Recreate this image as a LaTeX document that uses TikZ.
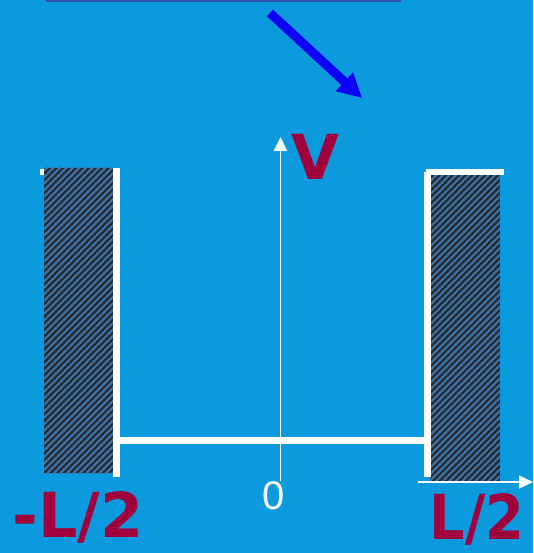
\documentclass[tikz,border=0pt]{standalone}
\usepackage{fontspec}
\setsansfont{DejaVu Sans}
\newfontfamily\digitfont{Liberation Sans}
\usetikzlibrary{arrows.meta, patterns.meta}
\definecolor{cbg}{HTML}{0B9ADE}
\definecolor{cwall}{HTML}{25282E}
\definecolor{cstripe}{HTML}{3D72A6}
\definecolor{clabel}{HTML}{A0003C}
\definecolor{cpointer}{HTML}{0A00F5}
\definecolor{crule}{HTML}{3050B0}
\tikzset{
  every picture/.style={x=1pt, y=-1pt},
  wall/.style={fill=cwall, postaction={pattern={Lines[angle=45, distance=4.6pt, line width=2.2pt]}, pattern color=cstripe}},
  rim/.style={draw=white, line width=6.5pt},
  axis/.style={draw=white, line width=1.8pt, -{Triangle[length=14pt, width=13pt]}},
  pointer/.style={draw=cpointer, line width=9pt, -{Triangle[length=24pt, width=24pt]}},
  label/.style={font=\sffamily\bfseries\fontsize{62}{62}\selectfont, text=clabel, inner sep=0pt, anchor=base},
}

\begin{document}
\begin{tikzpicture}
  % background and the rule at the top
  \fill[cbg] (0,0) rectangle (533,553);
  \useasboundingbox (0,0) rectangle (533,553);
  \coordinate (ruleL) at (46,1);
  \coordinate (ruleR) at (401,1);
  \draw[crule, line width=2pt] (ruleL) -- (ruleR);
  % the blue pointer
  \coordinate (ptail) at (270,13);
  \coordinate (phead) at (362,98);
  \draw[pointer] (ptail) -- (phead);
  % the two walls
  \path[wall] (44,168) rectangle (113,473);
  \path[wall] (430,175) rectangle (500,481);
  \fill[white] (40,169) rectangle (44,175);
  \fill[white] (426,169) rectangle (504,175.5);
  % the well itself
  \coordinate (lt) at (116.5,168);
  \coordinate (lb) at (116.5,477);
  \coordinate (fl) at (116.5,440.5);
  \coordinate (fr) at (427.5,440.5);
  \coordinate (rt) at (427.5,172);
  \coordinate (rb) at (427.5,477);
  \draw[rim] (lt) -- (lb);
  \draw[rim] (rt) -- (rb);
  \draw[rim] (fl) -- (fr);
  % axes
  \coordinate (origin) at (280.5,481);
  \coordinate (vtop) at (280.5,137);
  \coordinate (xstart) at (418,482);
  \coordinate (xend) at (533,482);
  \draw[axis] (origin) -- (vtop);
  \draw[axis] (xstart) -- (xend);
  % labels
  \node[label] (V) at (315,179) {V};
  \node[label] (minusL) at (78,537) {-L/2};
  \node[label, xscale=0.9] (plusL) at (477,539) {L/2};
  \node[font=\digitfont\fontsize{40}{40}\selectfont, text=white, inner sep=0pt] (zero) at (274,496) {0};
\end{tikzpicture}
\end{document}
